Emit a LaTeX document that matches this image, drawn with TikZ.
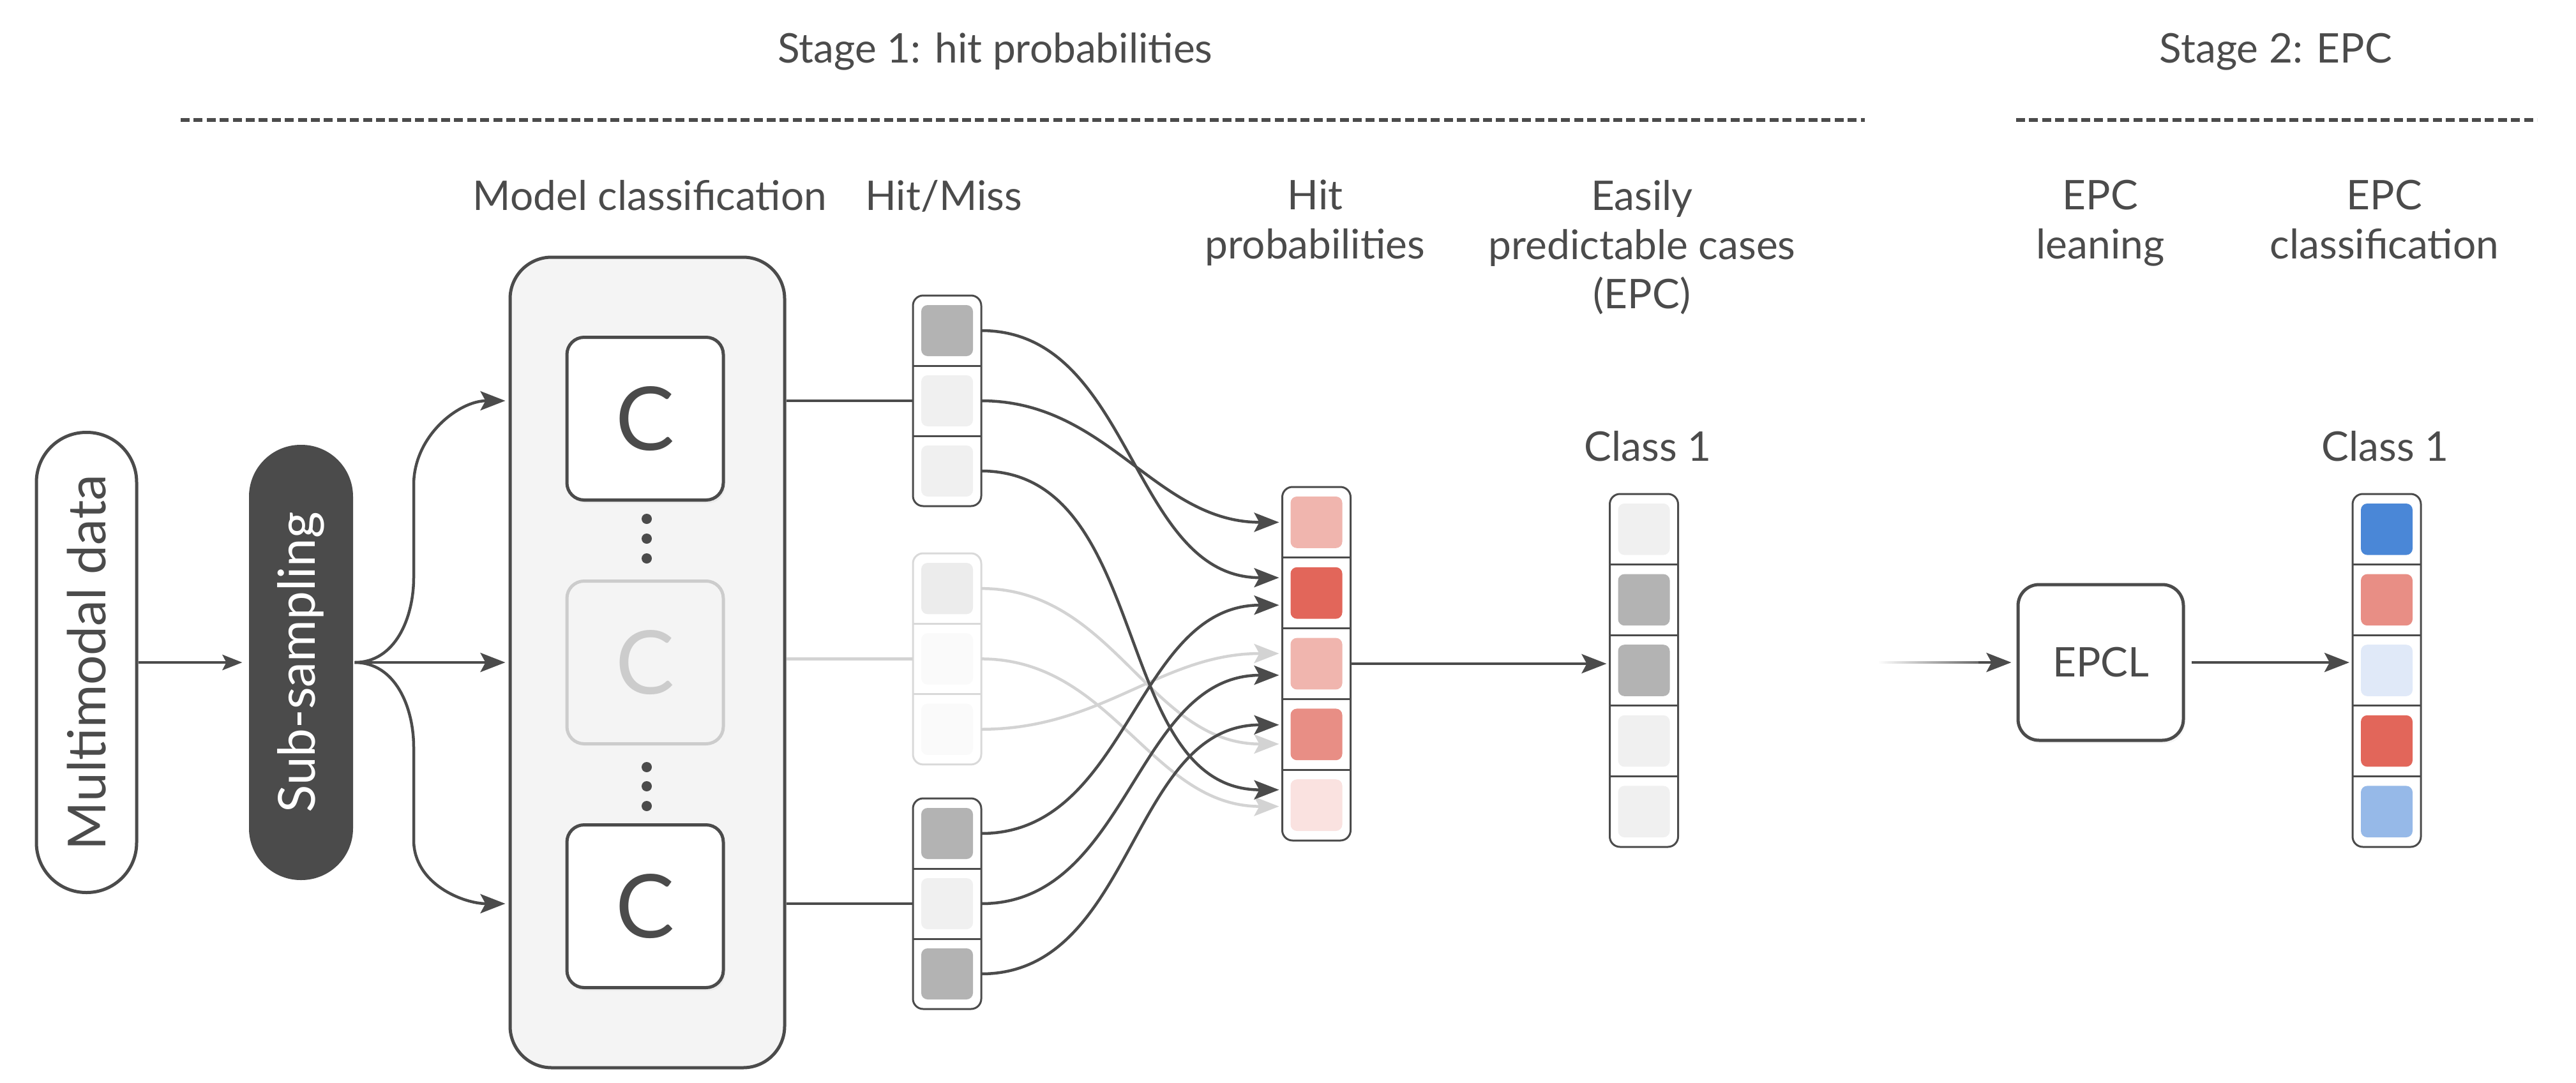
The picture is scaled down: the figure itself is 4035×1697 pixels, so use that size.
\documentclass[tikz,border=0pt]{standalone}
\usepackage{fontspec}
\usepackage{graphicx}
\setmainfont{Lato}
\usetikzlibrary{arrows.meta,fadings,calc,shadows}
\definecolor{dk}{HTML}{4B4B4B}
\definecolor{lg}{HTML}{D3D3D3}
\definecolor{lgC}{HTML}{CCCCCC}
\definecolor{bgbox}{HTML}{F4F4F4}
\definecolor{gB}{HTML}{B3B3B3}
\definecolor{gL}{HTML}{F0F0F0}
\definecolor{fB}{HTML}{ECECEC}
\definecolor{fL}{HTML}{FAFAFA}
\definecolor{fborder}{HTML}{D9D9D9}
\definecolor{rA}{HTML}{E2665A}
\definecolor{rB}{HTML}{E88E85}
\definecolor{rC}{HTML}{F0B5AE}
\definecolor{rD}{HTML}{FAE2E0}
\definecolor{bA}{HTML}{4A87D7}
\definecolor{bB}{HTML}{96B9E8}
\definecolor{bC}{HTML}{E0E9F8}
\tikzfading[name=fadein, left color=transparent!100, right color=transparent!0]

% #1 name, #2 x centre, #3 y top (down), #4 cell height, #5 border colour, #6 fills, #7 number of cells
\newcommand\cellcolumn[7]{%
  \draw[#5, line width=3pt, fill=white, rounded corners=16pt]
    ({#2-53.5}, {-(#3)}) rectangle ({#2+53.5}, {-(#3)-(#7)*(#4)});
  \foreach \cc [count=\ci] in {#6} {
    \node[cellbox, minimum height=#4pt] (#1\ci) at (#2, {-(#3)-(\ci-0.5)*(#4)}) {};
    \fill[\cc, rounded corners=10pt] ([shift={(13pt,-15pt)}]#1\ci.north west) rectangle ([shift={(-13pt,15pt)}]#1\ci.south east);
    \ifnum\ci>1 \draw[#5, line width=3pt] (#1\ci.north west) -- (#1\ci.north east);\fi
  }%
}

\tikzset{
  cellbox/.style={rectangle, minimum width=107pt, inner sep=0pt, outer sep=0pt},
  lbl/.style={text=dk, font=\fontsize{64pt}{77pt}\selectfont, align=center, inner sep=0pt},
  tip/.style={-{Stealth[length=39pt,width=30pt,inset=8pt]}},
  conn/.style={draw=dk, line width=4.5pt, tip, shorten >=5pt},
  connF/.style={conn, draw=lg, -{Stealth[length=39pt,width=30pt,inset=8pt,color=lg]}},
  connS/.style={draw=dk, line width=4.5pt, -{Stealth[length=31pt,width=24pt,inset=6pt]}, shorten >=8pt},
  pill/.style={draw=dk, line width=5pt, fill=white, text=dk, inner sep=0pt},
  softshadow/.style={drop shadow={opacity=0.08, shadow xshift=3pt, shadow yshift=-5pt}},
  cbox/.style={draw=dk, fill=white, line width=5pt, rounded corners=27pt, minimum width=245pt,
    minimum height=255pt, inner sep=0pt, text=dk, font=\fontsize{138pt}{160pt}\selectfont},
  dashline/.style={draw=dk, line width=6pt, dash pattern=on 14pt off 6.4pt},
}

\begin{document}
\begin{tikzpicture}[x=1pt, y=1pt]
\useasboundingbox (0,0) rectangle (4035,-1697);

% titles and dashed rules
\node[lbl, anchor=base] (s1) at (1559,-98) {Stage 1: hit probabilities};
\node[lbl, anchor=base] (s2) at (3565,-98) {Stage 2: EPC};
\draw[dashline] (283,-188) -- (2921,-188);
\draw[dashline] (3158,-188) -- (3974,-188);

% column headings
\node[lbl, anchor=north] (lmc) at (1018,-282) {Model classification};
\node[lbl, anchor=north] (lhm) at (1478,-282) {Hit/Miss};
\node[lbl, anchor=north] (lhp) at (2060,-282) {Hit\\probabilities};
\node[lbl, anchor=north] (lepc) at (2572,-282) {Easily\\predictable cases\\(EPC)};
\node[lbl, anchor=north] (lel) at (3290,-282) {EPC\\leaning};
\node[lbl, anchor=north] (lec) at (3735,-282) {EPC\\classification};
\node[lbl, anchor=base] (cl1) at (2581,-722) {Class 1};
\node[lbl, anchor=base] (cl2) at (3736,-722) {Class 1};

% input pills
\node[pill, minimum width=157pt, minimum height=721pt, rounded corners=78pt] (mm) at (135.5,-1038)
  {\rotatebox{90}{\fontsize{82pt}{98pt}\selectfont Multimodal data}};
\node[pill, draw=none, fill=dk, text=white, minimum width=163pt, minimum height=682pt, rounded corners=81pt] (sub) at (471.5,-1038)
  {\rotatebox{90}{\fontsize{80pt}{96pt}\selectfont Sub-sampling}};

% model classification box
\node[draw=dk, fill=bgbox, line width=5pt, rounded corners=65pt, minimum width=430pt, minimum height=1270pt] (outer) at (1014,-1038) {};
\node[cbox, softshadow] (c1) at (1010.5,-656) {C};
\node[cbox, draw=lgC, fill=bgbox, text=lgC] (c2) at (1010.5,-1038) {C};
\node[cbox, softshadow] (c3) at (1010.5,-1420) {C};
\foreach \yy in {813,844,875,1202,1232,1263} \fill[dk] (1013,-\yy) circle (8pt);

% columns
\cellcolumn{hmA}{1483.5}{463}{110}{dk}{gB,gL,gL}{3}
\cellcolumn{hmB}{1483.5}{867}{110.3}{fborder}{fB,fL,fL}{3}
\cellcolumn{hmC}{1483.5}{1251}{110}{dk}{gB,gL,gB}{3}
\cellcolumn{hp}{2062}{763}{110.8}{dk}{rC,rA,rC,rB,rD}{5}
\cellcolumn{ec}{2575}{774}{110.6}{dk}{gL,gB,gB,gL,gL}{5}
\cellcolumn{cl}{3738.5}{774}{110.6}{dk}{bA,rB,bC,rA,bB}{5}

% input arrows
\draw[connS] (mm.east) -- (sub.west);
\draw[conn] (sub.east) to[out=0,in=-90] (648,-905) -- (648,-760) to[out=90,in=180] (outer.west |- hmA2);
\draw[conn] (sub.east) -- (outer.west |- sub.east);
\draw[conn] (sub.east) to[out=0,in=90] (648,-1171) -- (648,-1316) to[out=-90,in=180] (outer.west |- hmC2);

% model outputs
\draw[dk, line width=4.5pt] (outer.east |- hmA2) -- (hmA2.west);
\draw[lg, line width=4.5pt] (outer.east |- hmB2) -- (hmB2.west);
\draw[dk, line width=4.5pt] (outer.east |- hmC2) -- (hmC2.west);

% hit / miss to hit probabilities
\draw[connF] (hmB1.east) to[out=0,in=180] ([yshift=-15pt]hp4.west);
\draw[connF] (hmB2.east) to[out=0,in=180] ([yshift=-2pt]hp5.west);
\draw[connF] (hmB3.east) to[out=0,in=180] ([yshift=16pt]hp3.west);
\draw[conn] (hmA1.east) to[out=0,in=180] ([yshift=24pt]hp2.west);
\draw[conn] (hmA2.east) to[out=0,in=180] (hp1.west);
\draw[conn] (hmA3.east) to[out=0,in=180] ([yshift=24pt]hp5.west);
\draw[conn] (hmC1.east) to[out=0,in=180] ([yshift=-19pt]hp2.west);
\draw[conn] (hmC2.east) to[out=0,in=180] ([yshift=-18pt]hp3.west);
\draw[conn] (hmC3.east) to[out=0,in=180] ([yshift=15pt]hp4.west);

\draw[conn] (hp3.east) -- (hp3.east -| ec3.west);

% stage 2
\node[draw=dk, fill=white, line width=5pt, rounded corners=33pt, minimum width=259pt, minimum height=244pt,
  text=dk, font=\fontsize{64pt}{77pt}\selectfont, softshadow] (epcl) at (3290.5,-1038) {EPCL};
\coordinate (epcin) at (2943,-1038);
\draw[dk, line width=4.5pt, path fading=fadein] (epcin) -- ([xshift=-30pt]epcl.west);
\draw[conn, shorten >=8pt] ([xshift=-60pt]epcl.west) -- (epcl.west);
\draw[conn, shorten <=10pt] (epcl.east) -- (epcl.east -| cl3.west);
\end{tikzpicture}
\end{document}
